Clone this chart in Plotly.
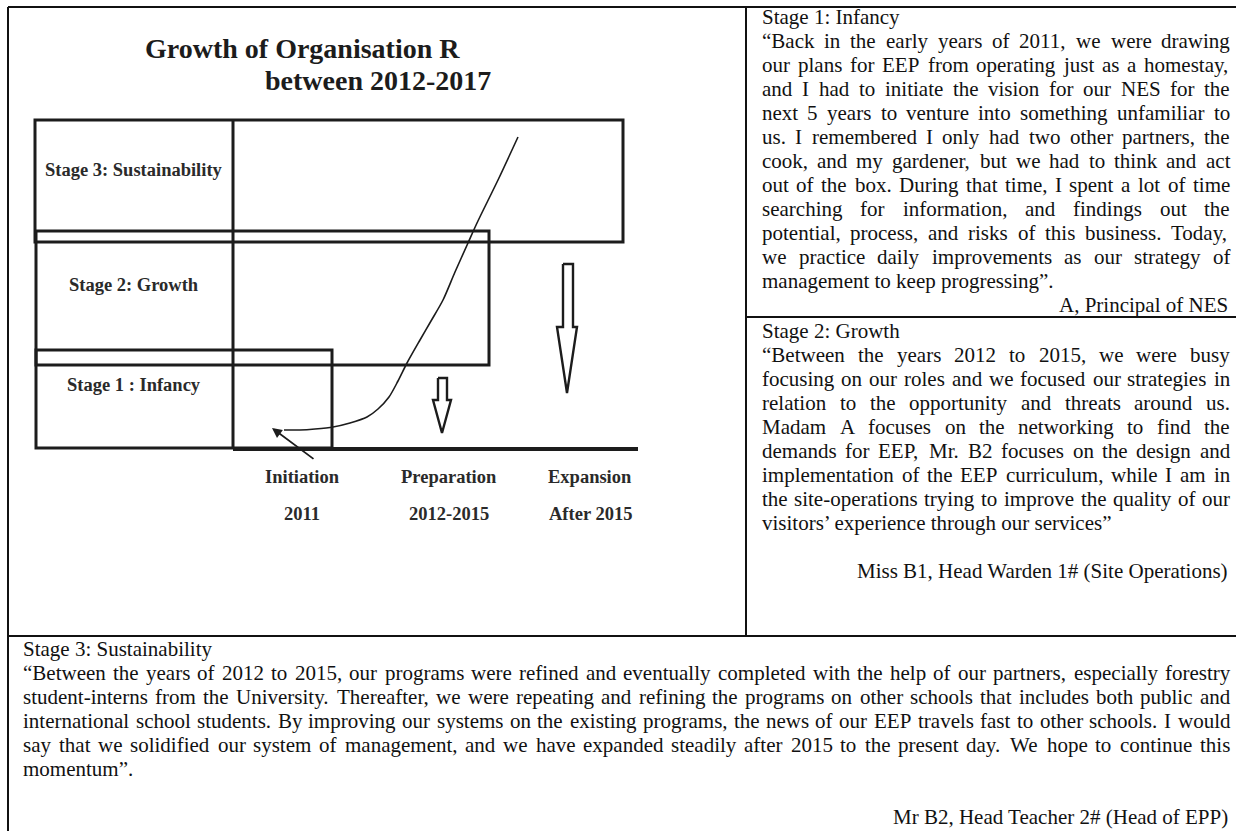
import plotly.graph_objects as go

# ---------------- data ----------------
title_lines = ["Growth of Organisation R", "between 2012-2017"]
title_x = [302, 378]
title_y = [48, 80]

stage_labels = ["Stage 3: Sustainability", "Stage 2: Growth", "Stage 1 : Infancy"]
stage_label_y = [170, 285, 385]

phase_names = ["Initiation", "Preparation", "Expansion"]
phase_years = ["2011", "2012-2015", "After 2015"]
phase_x = [302, 449, 590]

# stage boxes: [x0, x1, y0, y1] (diagram pixel units)
box_x0 = [35, 36, 36]
box_x1 = [623, 489, 332]
box_y0 = [120, 231, 350]
box_y1 = [242, 365, 448]

# growth curve
curve_x = [518, 498, 477, 468, 455, 443, 431, 420, 407, 398, 389, 378, 367, 350, 333, 315, 300, 284]
curve_y = [137, 180, 223, 243, 272, 300, 321, 340, 363, 381, 397, 409, 417, 423, 427, 429, 430, 430]

# hollow down arrows (outline)
arrow_small_x = [438, 447, 447, 451, 442, 433, 438, 438]
arrow_small_y = [378, 378, 400, 400, 433, 400, 400, 378]
arrow_big_x = [563, 573, 573, 577, 567, 557, 563, 563]
arrow_big_y = [264, 264, 327, 327, 393, 327, 327, 264]

stage1_head = "Stage 1: Infancy"
stage1_lines = [
    "“Back in the early years of 2011, we were drawing",
    "our plans for EEP from operating just as a homestay,",
    "and I had to initiate the vision for our NES for the",
    "next 5 years to venture into something unfamiliar to",
    "us. I remembered I only had two other partners, the",
    "cook, and my gardener, but we had to think and act",
    "out of the box. During that time, I spent a lot of time",
    "searching for information, and findings out the",
    "potential, process, and risks of this business. Today,",
    "we practice daily improvements as our strategy of",
]
stage1_last = "management to keep progressing”."
stage1_sign = "A, Principal of NES"

stage2_head = "Stage 2: Growth"
stage2_lines = [
    "“Between the years 2012 to 2015, we were busy",
    "focusing on our roles and we focused our strategies in",
    "relation to the opportunity and threats around us.",
    "Madam A focuses on the networking to find the",
    "demands for EEP, Mr. B2 focuses on the design and",
    "implementation of the EEP curriculum, while I am in",
    "the site-operations trying to improve the quality of our",
]
stage2_last = "visitors’ experience through our services”"
stage2_sign = "Miss B1, Head Warden 1# (Site Operations)"

stage3_head = "Stage 3: Sustainability"
stage3_lines = [
    "“Between the years of 2012 to 2015, our programs were refined and eventually completed with the help of our partners, especially forestry",
    "student-interns from the University. Thereafter, we were repeating and refining the programs on other schools that includes both public and",
    "international school students. By improving our systems on the existing programs, the news of our EEP travels fast to other schools. I would",
    "say that we solidified our system of management, and we have expanded steadily after 2015 to the present day. We hope to continue this",
]
stage3_last = "momentum”."
stage3_sign = "Mr B2, Head Teacher 2# (Head of EPP)"

# ---------------- layout constants ----------------
W, H = 1236, 831
TXT_FONT = "Liberation Serif, Times New Roman, serif"
TXT_SIZE = 21
LINE = 24.0
INK = "#111111"
DIAG_INK = "#1c1c1c"
LABEL_INK = "#2a2a2a"
LABEL_SIZE = 18.5

# Times / Liberation Serif advance widths (1/1000 em)
TW = {' ': 250, '!': 333, '#': 500, '(': 333, ')': 333, ',': 250, '-': 333, '.': 250,
      ':': 278, ';': 278, '?': 444, '“': 444, '”': 444, '‘': 333, '’': 333,
      'A': 722, 'B': 667, 'C': 667, 'D': 722, 'E': 611, 'F': 556, 'G': 722, 'H': 722,
      'I': 333, 'J': 389, 'K': 722, 'L': 611, 'M': 889, 'N': 722, 'O': 722, 'P': 556,
      'Q': 722, 'R': 667, 'S': 556, 'T': 611, 'U': 722, 'V': 722, 'W': 944, 'X': 722,
      'Y': 722, 'Z': 611,
      'a': 444, 'b': 500, 'c': 444, 'd': 500, 'e': 444, 'f': 333, 'g': 500, 'h': 500,
      'i': 278, 'j': 278, 'k': 500, 'l': 278, 'm': 778, 'n': 500, 'o': 500, 'p': 500,
      'q': 500, 'r': 333, 's': 389, 't': 278, 'u': 500, 'v': 500, 'w': 722, 'x': 500,
      'y': 500, 'z': 444}


def text_w(s, size=TXT_SIZE):
    return sum(TW.get(c, 500) for c in s) * size / 1000.0


fig = go.Figure()
annotations = []
shapes = []


def add_text(txt, x, y, anchor="left", size=TXT_SIZE, bold=False, color=INK):
    annotations.append(dict(
        x=x, y=y, xref="x", yref="y", text=("<b>%s</b>" % txt) if bold else txt,
        showarrow=False, xanchor=anchor, yanchor="middle", borderpad=0,
        font=dict(family=TXT_FONT, size=size, color=color)))


def add_justified(line, x0, x1, y):
    words = line.split(" ")
    ws = [text_w(w) for w in words]
    gap = (x1 - x0 - sum(ws)) / (len(words) - 1)
    x = x0
    for w, wd in zip(words, ws):
        add_text(w, x, y)
        x += wd + gap


def add_block(head, lines, last, sign, x0, x1, y0, blank_before_sign=0):
    y = y0
    add_text(head, x0, y)
    y += LINE
    for ln in lines:
        add_justified(ln, x0, x1, y)
        y += LINE
    add_text(last, x0, y)
    y += LINE * (1 + blank_before_sign)
    add_text(sign, x1, y, anchor="right")


def hline(x0, x1, y, w=2, c=INK):
    shapes.append(dict(type="line", xref="x", yref="y", x0=x0, x1=x1, y0=y, y1=y,
                       line=dict(color=c, width=w)))


def vline(x, y0, y1, w=2, c=INK):
    shapes.append(dict(type="line", xref="x", yref="y", x0=x, x1=x, y0=y0, y1=y1,
                       line=dict(color=c, width=w)))


# ---------------- table frame ----------------
TBL_L, TBL_T, COL_X, DIV1, DIV2 = 8, 7, 746, 317, 636
hline(TBL_L, W, TBL_T)
vline(TBL_L, TBL_T, H)
vline(COL_X, TBL_T, DIV2)
hline(COL_X, W, DIV1)
hline(TBL_L, W, DIV2)

# ---------------- text blocks ----------------
add_block(stage1_head, stage1_lines, stage1_last, stage1_sign, 761, 1229, 17)
add_block(stage2_head, stage2_lines, stage2_last, stage2_sign, 761, 1229, 331, blank_before_sign=1)
add_block(stage3_head, stage3_lines, stage3_last, stage3_sign, 22, 1229, 649, blank_before_sign=1)

# ---------------- diagram ----------------
for t, x, y in zip(title_lines, title_x, title_y):
    add_text(t, x, y, anchor="center", size=28, bold=True, color=DIAG_INK)

for x0, x1, y0, y1 in zip(box_x0, box_x1, box_y0, box_y1):
    shapes.append(dict(type="rect", xref="x", yref="y", x0=x0, x1=x1, y0=y0, y1=y1,
                       line=dict(color=DIAG_INK, width=3)))
vline(233, box_y0[0], box_y1[2], w=3, c=DIAG_INK)
hline(233, 638, 449, w=4, c=DIAG_INK)

for t, y in zip(stage_labels, stage_label_y):
    add_text(t, 134, y, anchor="center", size=LABEL_SIZE, bold=True, color=LABEL_INK)

for n, yr, x in zip(phase_names, phase_years, phase_x):
    add_text(n, x, 477, anchor="center", size=LABEL_SIZE, bold=True, color=LABEL_INK)
    add_text(yr, x, 514, anchor="center", size=LABEL_SIZE, bold=True, color=LABEL_INK)

fig.add_trace(go.Scatter(x=curve_x, y=curve_y, mode="lines", hoverinfo="skip",
                         line=dict(color=DIAG_INK, width=1.6, shape="spline", smoothing=0.8)))
fig.add_trace(go.Scatter(x=arrow_small_x, y=arrow_small_y, mode="lines", hoverinfo="skip",
                         line=dict(color=DIAG_INK, width=2.4)))
fig.add_trace(go.Scatter(x=arrow_big_x, y=arrow_big_y, mode="lines", hoverinfo="skip",
                         line=dict(color=DIAG_INK, width=2.4)))

annotations.append(dict(x=272, y=428, xref="x", yref="y", ax=315, ay=460, axref="x", ayref="y",
                        text="", showarrow=True, arrowhead=2, arrowsize=1.1, arrowwidth=1.8,
                        arrowcolor=DIAG_INK))

fig.update_layout(
    width=W, height=H, margin=dict(l=0, r=0, t=0, b=0),
    paper_bgcolor="white", plot_bgcolor="white", showlegend=False,
    xaxis=dict(range=[0, W], visible=False, fixedrange=True),
    yaxis=dict(range=[H, 0], visible=False, fixedrange=True),
    shapes=shapes, annotations=annotations,
)

fig.write_html("out.html", config={"displayModeBar": False},
               post_script="document.body.style.margin='0';document.body.style.overflow='hidden';")
